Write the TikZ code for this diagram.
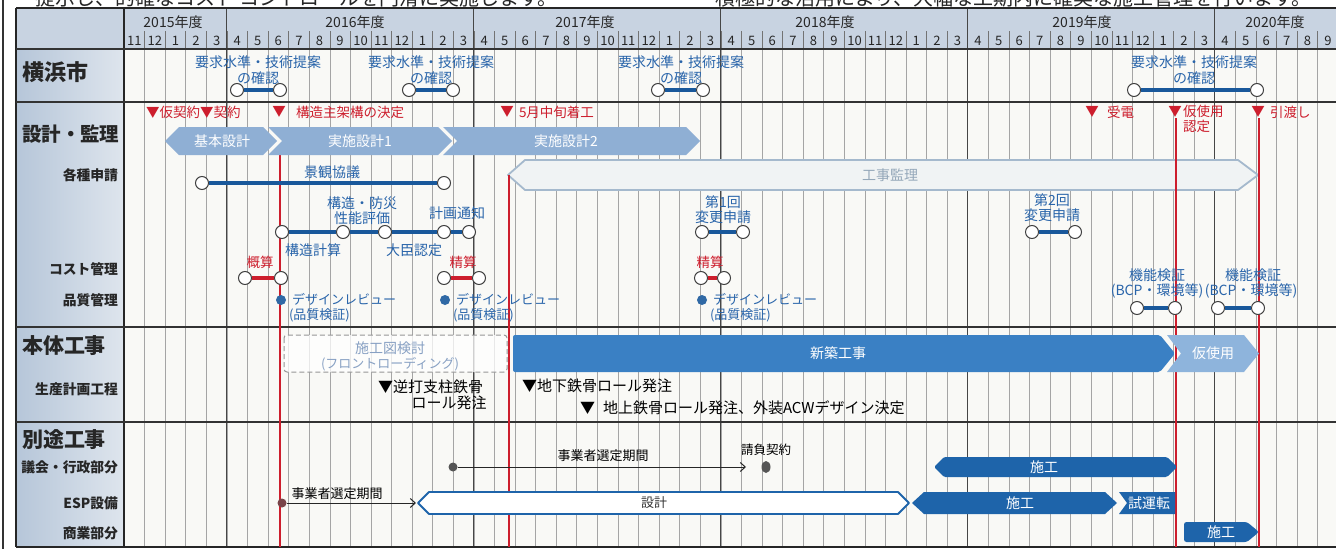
\documentclass[tikz,border=0pt]{standalone}
\usepackage{fontspec}
\setmainfont{Noto Sans CJK JP}
\usetikzlibrary{arrows.meta,shapes.geometric}
\definecolor{bluet}{RGB}{40,100,170}
\definecolor{blued}{RGB}{25,88,155}
\definecolor{redc}{RGB}{205,30,45}
\definecolor{dsg}{RGB}{143,175,212}
\definecolor{kanrid}{RGB}{165,185,205}
\definecolor{kanrif}{RGB}{240,243,244}
\definecolor{shinc}{RGB}{58,128,196}
\definecolor{karic}{RGB}{142,180,220}
\definecolor{sekoc}{RGB}{30,100,170}
\definecolor{headc}{RGB}{200,211,225}
\definecolor{labA}{RGB}{182,198,217}
\definecolor{labB}{RGB}{222,229,237}
\definecolor{chartbg}{RGB}{249,249,246}
\definecolor{gridc}{RGB}{165,165,165}
\definecolor{fyc}{RGB}{70,70,70}
\definecolor{dashc}{RGB}{150,150,150}
\definecolor{fronc}{RGB}{135,160,195}
\definecolor{dotc}{RGB}{85,85,85}
\tikzset{
  fs/.style={font=\fontsize{#1}{#1}\selectfont},
  tx/.style={inner sep=0pt, outer sep=0pt},
  bt/.style={tx, text=bluet, fs=14},
  rt/.style={tx, text=redc, fs=13.5},
  kt/.style={tx, text=black, fs=15},
  wt/.style={tx, text=white, fs=14},
  lbig/.style={tx, anchor=west, text=black!85, font=\fontsize{21}{21}\selectfont\bfseries},
  lsmall/.style={tx, anchor=east, text=black!85, font=\fontsize{13.8}{13.8}\selectfont\bfseries},
  mon/.style={tx, text=black!85, fs=13},
  yr/.style={tx, text=black!85, fs=14},
  oc/.style={circle, draw=black!75, fill=white, line width=1pt, minimum size=13pt, inner sep=0pt},
  bl/.style={draw=blued, line width=4pt},
  rl/.style={draw=redc, line width=4pt},
  redv/.style={draw=redc, line width=1.6pt},
  gridl/.style={draw=gridc, line width=0.6pt},
  fyl/.style={draw=fyc, line width=1.1pt},
  secl/.style={draw=black!80, line width=1.4pt},
  qdot/.style={circle, fill=blued!90, minimum size=10pt, inner sep=0pt},
  arr/.style={draw=black!85, line width=1pt, -{Straight Barb[length=5pt,width=9pt]}},
  bdot/.style={circle, fill=dotc, minimum size=9pt, inner sep=0pt}
}
\begin{document}
\begin{tikzpicture}[x=1pt,y=-1pt]
\clip (0,0) rectangle (1336,549);
\fill[white] (0,0) rectangle (1336,549);
% top cut-off text
\node[tx, anchor=base west, fs=20, text=black!85] (top1) at (35,5) {提示し、的確なコスト コントロールを円滑に実施します。};
\node[tx, anchor=base west, fs=20, text=black!85] (top2) at (715,5) {積極的な活用により、大幅な工期内に確実な施工管理を行います。};
\draw[black!80, line width=1.2pt] (3,0) -- (3,549);
% backgrounds
\fill[chartbg] (124,49) rectangle (1340,547);
\fill[headc] (16,8) rectangle (1340,49);
\shade[left color=labA, right color=labB] (16,49) rectangle (124,547);
% grid
\foreach \m in {1,...,58} {
  \draw[gridl] ({124+20.58*\m},49) -- ({124+20.58*\m},547);
  \draw[gridl, draw=black!55] ({124+20.58*\m},31) -- ({124+20.58*\m},49);
}
\foreach \m in {5,17,29,41,53} \draw[fyl] ({124+20.58*\m},8) -- ({124+20.58*\m},547);
% header labels
\foreach \lab [count=\i from 0] in {11,12,1,2,3,4,5,6,7,8,9,10,11,12,1,2,3,4,5,6,7,8,9,10,11,12,1,2,3,4,5,6,7,8,9,10,11,12,1,2,3,4,5,6,7,8,9,10,11,12,1,2,3,4,5,6,7,8,9}
  \node[mon] (mo\i) at ({124+20.58*(\i+0.5)},40.5) {\lab};
\node[yr] (fy15) at (173,22) {2015年度};
\node[yr] (fy16) at (355,22) {2016年度};
\node[yr] (fy17) at (585,22) {2017年度};
\node[yr] (fy18) at (825,22) {2018年度};
\node[yr] (fy19) at (1082,22) {2019年度};
\node[yr] (fy20) at (1275,22) {2020年度};
% frame and section lines
\draw[black!85, line width=2pt] (16,8) -- (1340,8);
\draw[black!85, line width=1.6pt] (16,8) -- (16,547);
\draw[black!85, line width=1.2pt] (124,8) -- (124,547);
\foreach \yy in {49,102,327,422} \draw[secl] (16,\yy) -- (1340,\yy);
\draw[black!85, line width=1.4pt] (16,547) -- (1340,547);
% left labels
\node[lbig, font=\fontsize{22}{22}\selectfont\bfseries] (lyoko) at (22,72) {横浜市};
\node[lbig, font=\fontsize{19.5}{19.5}\selectfont\bfseries] (lsek) at (22,134) {設計・監理};
\node[lsmall] (lkak) at (118,175) {各種申請};
\node[lsmall] (lcost) at (118,269) {コスト管理};
\node[lsmall] (lhin) at (118,300) {品質管理};
\node[lbig] (lhon) at (22,346) {本体工事};
\node[lsmall] (lsei) at (118,389) {生産計画工程};
\node[lbig] (lbet) at (22,440) {別途工事};
\node[lsmall] (lgik) at (118,467) {議会・行政部分};
\node[lsmall] (lesp) at (118,503) {ESP設備};
\node[lsmall] (lsho) at (118,533) {商業部分};
% 工事監理 arrow (under red lines)
\filldraw[draw=kanrid, fill=kanrif, line width=1.8pt, line join=round] (508,175) -- (525,160) -- (1238,160) -- (1258,175) -- (1238,190) -- (525,190) -- cycle;
\node[tx, text=kanrid!90!black, fs=14] (kanri) at (890,175) {工事監理};
% red milestone lines
\draw[redv] (280,155) -- (280,547);
\draw[redv] (509,175) -- (509,547);
\draw[redv] (1176,118) -- (1176,547);
\draw[redv] (1259,118) -- (1259,547);
% 横浜市 row
\node[bt] (y1t) at (258,62) {要求水準・技術提案};
\node[bt] (y1s) at (258,78) {の確認};
\node[oc] (y1a) at (237,90) {}; \node[oc] (y1b) at (280,90) {};
\draw[bl] (y1a) -- (y1b);
\node[bt] (y2t) at (431,62) {要求水準・技術提案};
\node[bt] (y2s) at (431,78) {の確認};
\node[oc] (y2a) at (409,90) {}; \node[oc] (y2b) at (453,90) {};
\draw[bl] (y2a) -- (y2b);
\node[bt] (y3t) at (681,62) {要求水準・技術提案};
\node[bt] (y3s) at (681,78) {の確認};
\node[oc] (y3a) at (658,90) {}; \node[oc] (y3b) at (703,90) {};
\draw[bl] (y3a) -- (y3b);
\node[bt] (y4t) at (1194,62) {要求水準・技術提案};
\node[bt] (y4s) at (1194,78) {の確認};
\node[oc] (y4a) at (1134,90) {}; \node[oc] (y4b) at (1257,90) {};
\draw[bl] (y4a) -- (y4b);
% milestones
\node[rt, anchor=west] (m1) at (146,112) {▼仮契約};
\node[rt, anchor=west] (m2) at (200,112) {▼契約};
\node[rt] (m3) at (279,112) {▼};
\node[rt, anchor=west] (m3t) at (296,112) {構造主架構の決定};
\node[rt] (m4) at (507,112) {▼};
\node[rt, anchor=west] (m4t) at (519,112) {5月中旬着工};
\node[rt] (m5) at (1092,112) {▼};
\node[rt, anchor=west] (m5t) at (1107,112) {受電};
\node[rt] (m6) at (1175,112) {▼};
\node[rt, anchor=west] (m6t) at (1183,111) {仮使用};
\node[rt, anchor=west] (m6s) at (1183,126) {認定};
\node[rt] (m7) at (1258,112) {▼};
\node[rt, anchor=west] (m7t) at (1270,112) {引渡し};
% design arrows
\fill[dsg, line join=round] (165,141) -- (179,127) -- (263,127) -- (277,141) -- (263,155) -- (179,155) -- cycle;
\node[wt] (kihon) at (222,141) {基本設計};
\fill[dsg] (268,127) -- (438,127) -- (452,141) -- (438,155) -- (268,155) -- (282,141) -- cycle;
\node[wt] (jis1) at (360,141) {実施設計1};
\fill[dsg] (443,127) -- (686,127) -- (700,141) -- (686,155) -- (443,155) -- (457,141) -- cycle;
\node[wt] (jis2) at (566,141) {実施設計2};
% 景観協議
\node[bt] (kei) at (332,172) {景観協議};
\node[oc] (k1) at (202,183) {}; \node[oc] (k2) at (444,183) {};
\draw[bl] (k1) -- (k2);
% chain
\node[bt] (kz1) at (362,203) {構造・防災};
\node[bt] (kz2) at (362,218) {性能評価};
\node[bt] (kt1) at (457,213) {計画通知};
\node[bt] (kk) at (313,250) {構造計算};
\node[bt] (dn) at (414,250) {大臣認定};
\node[oc] (c1) at (282,232) {}; \node[oc] (c2) at (343,232) {};
\node[oc] (c3) at (385,232) {}; \node[oc] (c4) at (444,232) {};
\node[oc] (c5) at (469,232) {};
\draw[bl] (c1) -- (c2); \draw[bl] (c2) -- (c3); \draw[bl] (c3) -- (c4); \draw[bl] (c4) -- (c5);
% 変更申請
\node[bt] (h1t) at (723,202) {第1回};
\node[bt] (h1s) at (723,217) {変更申請};
\node[oc] (h1) at (702,232) {}; \node[oc] (h2) at (743,232) {};
\draw[bl] (h1) -- (h2);
\node[bt] (h2t) at (1052,200) {第2回};
\node[bt] (h2s) at (1052,215) {変更申請};
\node[oc] (h3) at (1032,232) {}; \node[oc] (h4) at (1075,232) {};
\draw[bl] (h3) -- (h4);
% cost
\node[rt] (gt) at (260,262) {概算};
\node[oc] (g1) at (245,278) {}; \node[oc] (g2) at (281,278) {};
\draw[rl] (g1) -- (g2);
\node[rt] (st1) at (463,262) {精算};
\node[oc] (s1) at (444,278) {}; \node[oc] (s2) at (479,278) {};
\draw[rl] (s1) -- (s2);
\node[rt] (st2) at (710,262) {精算};
\node[oc] (s3) at (701,278) {}; \node[oc] (s4) at (724,278) {};
\draw[rl] (s3) -- (s4);
% quality
\node[qdot] (q1) at (281,300) {};
\node[bt, fs=13, anchor=west] (q1t) at (292,299) {デザインレビュー};
\node[bt, fs=13, anchor=west] (q1s) at (289,315) {(品質検証)};
\node[qdot] (q2) at (445,300) {};
\node[bt, fs=13, anchor=west] (q2t) at (456,299) {デザインレビュー};
\node[bt, fs=13, anchor=west] (q2s) at (453,315) {(品質検証)};
\node[qdot] (q3) at (702,300) {};
\node[bt, fs=13, anchor=west] (q3t) at (713,299) {デザインレビュー};
\node[bt, fs=13, anchor=west] (q3s) at (710,315) {(品質検証)};
% 機能検証
\node[bt] (f1t) at (1157,275) {機能検証};
\node[bt] (f1s) at (1157,291) {(BCP・環境等)};
\node[oc] (f1a) at (1137,308) {}; \node[oc] (f1b) at (1175,308) {};
\draw[bl] (f1a) -- (f1b);
\node[bt] (f2t) at (1253,275) {機能検証};
\node[bt] (f2s) at (1251,291) {(BCP・環境等)};
\node[oc] (f2a) at (1218,308) {}; \node[oc] (f2b) at (1258,308) {};
\draw[bl] (f2a) -- (f2b);
% 本体工事
\draw[dashc, line width=1pt, dash pattern=on 5pt off 3pt, fill=white, fill opacity=0.75, rounded corners=3pt] (284,335) rectangle (507,372);
\node[tx, text=fronc, fs=14] (sz1) at (390,348) {施工図検討};
\node[tx, text=fronc, fs=13] (sz2) at (390,364) {(フロントローディング)};
\fill[shinc, rounded corners=2pt] (513,335) -- (1160,335) -- (1175,353.5) -- (1160,372) -- (513,372) -- cycle;
\node[wt] (shin) at (838,353) {新築工事};
\fill[karic] (1167,335) -- (1244,335) -- (1259,353.5) -- (1244,372) -- (1167,372) -- (1181,353.5) -- cycle;
\node[wt] (kari) at (1213,353) {仮使用};
\node[kt, anchor=west] (p1) at (378,387) {▼逆打支柱鉄骨};
\node[kt] (p1s) at (449,403) {ロール発注};
\node[kt, anchor=west] (p2) at (522,386) {▼地下鉄骨ロール発注};
\node[kt, anchor=west] (p3) at (580,408) {▼\hspace{8pt}地上鉄骨ロール発注、外装ACWデザイン決定};
% 別途工事 : 議会
\node[bdot] (gd) at (453,467) {};
\coordinate (ge) at (746,467);
\draw[arr] (gd) -- (ge);
\node[tx, fs=13] (gtx) at (603,456) {事業者選定期間};
\node[tx, fs=12.5] (ukt) at (766,450) {請負契約};
\node[ellipse, fill=dotc, minimum width=9pt, minimum height=12pt, inner sep=0pt] (ukd) at (766,467) {};
\fill[sekoc, rounded corners=1.5pt] (934,467) -- (944,457) -- (1167,457) -- (1177,467) -- (1167,477) -- (944,477) -- cycle;
\node[wt] (gse) at (1044,467) {施工};
% ESP
\node[bdot, fill=dotc!70!redc] (ed) at (282,503) {};
\coordinate (ee) at (416,503);
\draw[arr] (ed) -- (ee);
\node[tx, fs=13] (etx) at (337,494) {事業者選定期間};
\draw[sekoc, line width=1.8pt, fill=white, line join=round] (418,503) -- (429,492) -- (898,492) -- (909,503) -- (898,514) -- (429,514) -- cycle;
\node[tx, fs=13, text=black!80] (eds) at (654,503) {設計};
\fill[sekoc] (912,503) -- (924,492) -- (1105,492) -- (1117,503) -- (1105,514) -- (924,514) -- cycle;
\node[wt] (ese) at (1020,503) {施工};
\fill[sekoc] (1119,492) -- (1175,492) -- (1175,514) -- (1119,514) -- (1127,503) -- cycle;
\node[wt] (esh) at (1149,503) {試運転};
% 商業
\fill[sekoc, rounded corners=2.5pt] (1184,522) -- (1247,522) -- (1259,532) -- (1247,542) -- (1184,542) -- cycle;
\node[wt] (sse) at (1221,532) {施工};
\end{tikzpicture}
\end{document}
